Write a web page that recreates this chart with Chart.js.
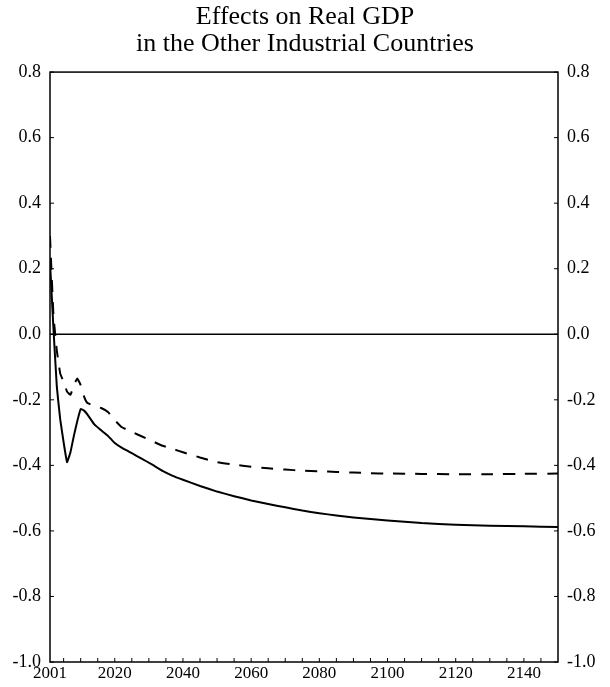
<!DOCTYPE html>
<html>
<head>
<meta charset="utf-8">
<title>Effects on Real GDP</title>
<script src="https://cdn.jsdelivr.net/npm/chart.js@4/dist/chart.umd.min.js"></script>
<style>
  html, body { margin: 0; padding: 0; background: #ffffff; }
  #wrap { width: 610px; height: 687px; }
</style>
</head>
<body>
<div id="wrap"><canvas id="gdpChart" width="610" height="687"></canvas></div>
<script>
// --- data ---
const years = [
  2001, 2002, 2003, 2004, 2005, 2006, 2007, 2008, 2009, 2010, 2011, 2012,
  2014, 2016, 2018, 2020, 2022, 2025, 2028, 2031, 2034, 2037,
  2040, 2045, 2050, 2055, 2060, 2065, 2070, 2075, 2080, 2085, 2090, 2095, 2100,
  2110, 2120, 2130, 2140, 2150
];
const solidValues = [
  0.22, 0.02, -0.16, -0.26, -0.33, -0.39, -0.36, -0.31, -0.265, -0.228, -0.233, -0.245,
  -0.275, -0.293, -0.31, -0.332, -0.346, -0.363, -0.38, -0.398, -0.417, -0.432,
  -0.444, -0.463, -0.48, -0.494, -0.507, -0.518, -0.528, -0.538, -0.546, -0.553, -0.559, -0.564, -0.568,
  -0.576, -0.581, -0.584, -0.586, -0.588
];
const dashedValues = [
  0.30, 0.06, -0.05, -0.12, -0.145, -0.175, -0.185, -0.155, -0.135, -0.155, -0.19, -0.21,
  -0.218, -0.225, -0.237, -0.262, -0.283, -0.298, -0.312, -0.326, -0.34, -0.35,
  -0.36, -0.376, -0.39, -0.398, -0.404, -0.409, -0.413, -0.416, -0.418, -0.42, -0.422, -0.424, -0.425,
  -0.426, -0.427, -0.427, -0.426, -0.425
];
const zeroYears = [2001, 2150];
const zeroValues = [0, 0];
const xTickLabels = [2001, 2020, 2040, 2060, 2080, 2100, 2120, 2140];
const yTickLabels = [0.8, 0.6, 0.4, 0.2, 0.0, -0.2, -0.4, -0.6, -0.8, -1.0];

const ink = "#000000";
const serif = "'Liberation Serif', 'DejaVu Serif', serif";

const toPoints = (xs, ys) => xs.map((x, i) => ({ x: x, y: ys[i] }));

// frame round the plot plus the small inward tick marks
const frameAndTicks = {
  id: 'frameAndTicks',
  afterDatasetsDraw(chart) {
    const { ctx, chartArea, scales } = chart;
    const { left, right, top, bottom } = chartArea;
    ctx.save();
    ctx.strokeStyle = ink;
    ctx.lineWidth = 1.5;
    ctx.strokeRect(left, top, right - left, bottom - top);

    ctx.lineWidth = 1;
    ctx.beginPath();
    for (let yr = 2005; yr < 2150; yr += 5) {
      const px = scales.x.getPixelForValue(yr);
      ctx.moveTo(px, bottom);
      ctx.lineTo(px, bottom - 4);
    }
    yTickLabels.forEach(v => {
      const py = scales.y.getPixelForValue(v);
      ctx.moveTo(left, py);
      ctx.lineTo(left + 4, py);
      ctx.moveTo(right, py);
      ctx.lineTo(right - 4, py);
    });
    ctx.stroke();
    ctx.restore();
  }
};

document.addEventListener("DOMContentLoaded", function () {

  const yTicks = {
    color: ink,
    padding: 9,
    font: { family: serif, size: 18 },
    callback: v => Number(v).toFixed(1)
  };

  new Chart(document.getElementById("gdpChart"), {
    type: "line",
    data: {
      datasets: [
        {
          label: "Zero",
          data: toPoints(zeroYears, zeroValues),
          borderColor: ink,
          borderWidth: 1.5,
          pointRadius: 0
        },
        {
          label: "Solid",
          data: toPoints(years, solidValues),
          borderColor: ink,
          borderWidth: 2,
          pointRadius: 0,
          tension: 0.1
        },
        {
          label: "Dashed",
          data: toPoints(years, dashedValues),
          borderColor: ink,
          borderWidth: 2,
          borderDash: [12, 10],
          pointRadius: 0,
          tension: 0.1
        }
      ]
    },
    options: {
      responsive: false,
      animation: false,
      layout: { padding: 0 },
      plugins: {
        legend: { display: false },
        tooltip: { enabled: false },
        title: {
          display: true,
          text: ["Effects on Real GDP", "in the Other Industrial Countries"],
          color: ink,
          font: { family: serif, size: 26, weight: "normal", lineHeight: 1.04 },
          padding: { top: 4, bottom: 14 }
        }
      },
      scales: {
        x: {
          type: "linear",
          min: 2001,
          max: 2150,
          grid: { display: false, drawTicks: false },
          border: { display: false },
          afterBuildTicks: scale => {
            scale.ticks = xTickLabels.map(v => ({ value: v }));
          },
          afterFit: scale => { scale.height = 25; },
          ticks: {
            color: ink,
            padding: 1,
            maxRotation: 0,
            autoSkip: false,
            font: { family: serif, size: 17 },
            callback: v => String(v)
          }
        },
        y: {
          position: "left",
          min: -1.0,
          max: 0.8,
          grid: { display: false, drawTicks: false },
          border: { display: false },
          afterBuildTicks: scale => {
            scale.ticks = yTickLabels.map(v => ({ value: v }));
          },
          afterFit: scale => { scale.width = 50; },
          ticks: yTicks
        },
        y2: {
          position: "right",
          min: -1.0,
          max: 0.8,
          grid: { display: false, drawTicks: false },
          border: { display: false },
          afterBuildTicks: scale => {
            scale.ticks = yTickLabels.map(v => ({ value: v }));
          },
          afterFit: scale => { scale.width = 52; },
          ticks: yTicks
        }
      }
    },
    plugins: [frameAndTicks]
  });

});
</script>
</body>
</html>
